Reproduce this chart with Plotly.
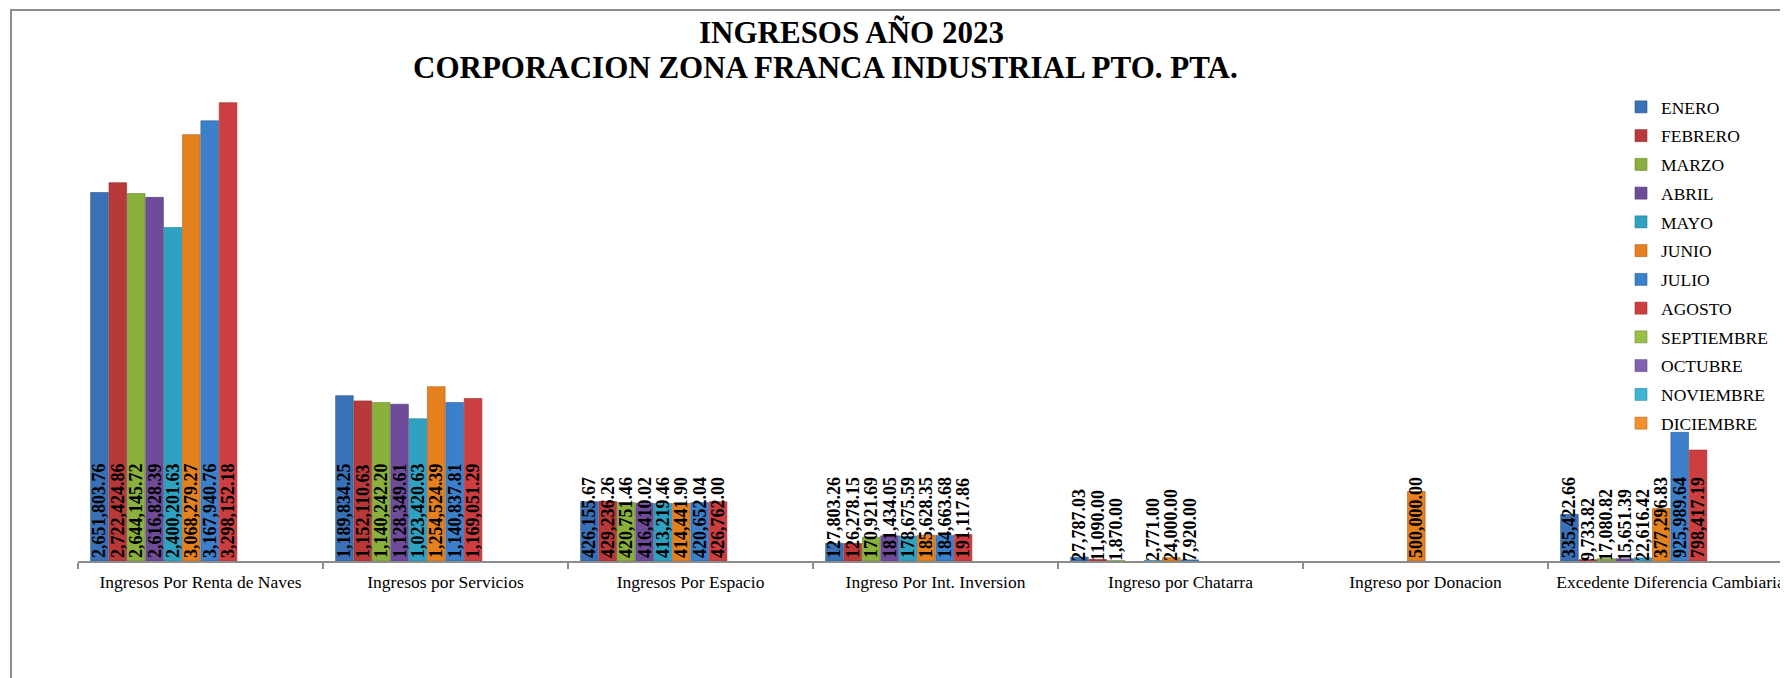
import plotly.graph_objects as go

categories = [
    "Ingresos Por Renta de Naves",
    "Ingresos por Servicios",
    "Ingresos Por Espacio",
    "Ingreso Por Int. Inversion",
    "Ingreso por Chatarra",
    "Ingreso por Donacion",
    "Excedente Diferencia Cambiaria",
]

months = ["ENERO", "FEBRERO", "MARZO", "ABRIL", "MAYO", "JUNIO", "JULIO",
          "AGOSTO", "SEPTIEMBRE", "OCTUBRE", "NOVIEMBRE", "DICIEMBRE"]

enero = [2651803.76, 1189834.25, 426155.67, 127803.26, 27787.03, None, 335422.66]
febrero = [2722424.86, 1152110.63, 429236.26, 126278.15, 11090.00, None, 9733.82]
marzo = [2644145.72, 1140242.20, 420751.46, 170921.69, 1870.00, None, 17080.82]
abril = [2616828.39, 1128349.61, 416410.02, 181434.05, None, None, 15651.39]
mayo = [2400201.63, 1023420.63, 413219.46, 178675.59, 2771.00, None, 22616.42]
junio = [3068279.27, 1254524.39, 414441.90, 185628.35, 24000.00, 500000.00, 377296.83]
julio = [3167940.76, 1140837.81, 420652.04, 184663.68, 7920.00, None, 925989.64]
agosto = [3298152.18, 1169051.29, 426762.00, 191117.86, None, None, 798417.19]
septiembre = [None] * 7
octubre = [None] * 7
noviembre = [None] * 7
diciembre = [None] * 7

series = [enero, febrero, marzo, abril, mayo, junio, julio, agosto,
          septiembre, octubre, noviembre, diciembre]

colors = ["#3A70B5", "#B8393A", "#8AB03E", "#6E4C9A", "#2FA2C1", "#E5801F",
          "#3C7FCB", "#CC3E40", "#9BC046", "#8161B0", "#3DB5D5", "#F0902E"]
line_colors = ["#2B5588", "#8A2A2B", "#68852E", "#523973", "#237A91", "#AC6017",
               "#2D5F98", "#992F30", "#749035", "#614984", "#2E88A0", "#B46C22"]

SERIF = "Liberation Serif, Times New Roman, serif"

fig = go.Figure()
for name, vals, c, lc in zip(months, series, colors, line_colors):
    fig.add_trace(go.Bar(
        name=name,
        x=categories,
        y=vals,
        marker=dict(color=c, line=dict(color=lc, width=0.6)),
        texttemplate="%{y:,.2f}",
        textposition="inside",
        insidetextanchor="start",
        textangle=-90,
        constraintext="none",
        insidetextfont=dict(family=SERIF, size=18, color="black", weight="bold"),
        textfont=dict(family=SERIF, size=18, color="black", weight="bold"),
        legendgroup=name,
        hoverinfo="x+y+name",
    ))

# page body has an 8px margin; positions below are in page pixels
OFF = 8
PAGE_W, PAGE_H = 1788, 678
W, H = PAGE_W - OFF, PAGE_H - OFF
PLOT_LEFT, PLOT_TOP, BASELINE = 78, 80, 561
ML = PLOT_LEFT - OFF
MT = PLOT_TOP - OFF
MR = 0
MB = H - (BASELINE - OFF)
plot_w = W - ML - MR
plot_h = H - MT - MB
cat_px = 245.0
px_per_unit = 458.3 / 3298152.18


def px(xp):
    return (xp - PLOT_LEFT) / plot_w


def py(yp):
    return (BASELINE - yp) / plot_h


fig.update_layout(
    width=W, height=H,
    margin=dict(l=ML, r=MR, t=MT, b=MB, pad=0),
    paper_bgcolor="white",
    plot_bgcolor="white",
    barmode="group",
    bargap=0.1,
    bargroupgap=0.04,
    font=dict(family=SERIF, color="black"),
    showlegend=True,
    legend=dict(
        x=px(1621), xanchor="left",
        y=py(89), yanchor="top",
        font=dict(family=SERIF, size=17.5, color="black"),
        bgcolor="rgba(0,0,0,0)",
        tracegroupgap=3,
        itemclick=False,
    ),
    xaxis=dict(
        range=[-0.5, -0.5 + plot_w / cat_px],
        showgrid=False,
        showline=True, linecolor="#8C8C8C", linewidth=2,
        ticks="outside", tickson="boundaries", ticklen=6, tickcolor="#8C8C8C",
        tickwidth=1.5,
        ticklabelstandoff=4,
        tickfont=dict(family=SERIF, size=17.5, color="black"),
        zeroline=False,
    ),
    yaxis=dict(
        range=[0, plot_h / px_per_unit],
        visible=False,
        showgrid=False,
        zeroline=False,
    ),
    annotations=[
        dict(text="<b>INGRESOS AÑO 2023</b>", xref="paper", yref="paper",
             x=px(851), y=py(32),
             xanchor="center", yanchor="middle", showarrow=False,
             font=dict(family=SERIF, size=31, color="black")),
        dict(text="<b>CORPORACION ZONA FRANCA INDUSTRIAL PTO. PTA.</b>", xref="paper", yref="paper",
             x=px(825), y=py(67.5),
             xanchor="center", yanchor="middle", showarrow=False,
             font=dict(family=SERIF, size=31, color="black")),
    ],
    shapes=[
        dict(type="rect", xref="paper", yref="paper",
             x0=px(11), x1=1.2,
             y0=-0.6, y1=py(10),
             line=dict(color="#8E8E8E", width=2), fillcolor="rgba(0,0,0,0)",
             layer="below"),
    ],
)

fig.write_html("out.html")
